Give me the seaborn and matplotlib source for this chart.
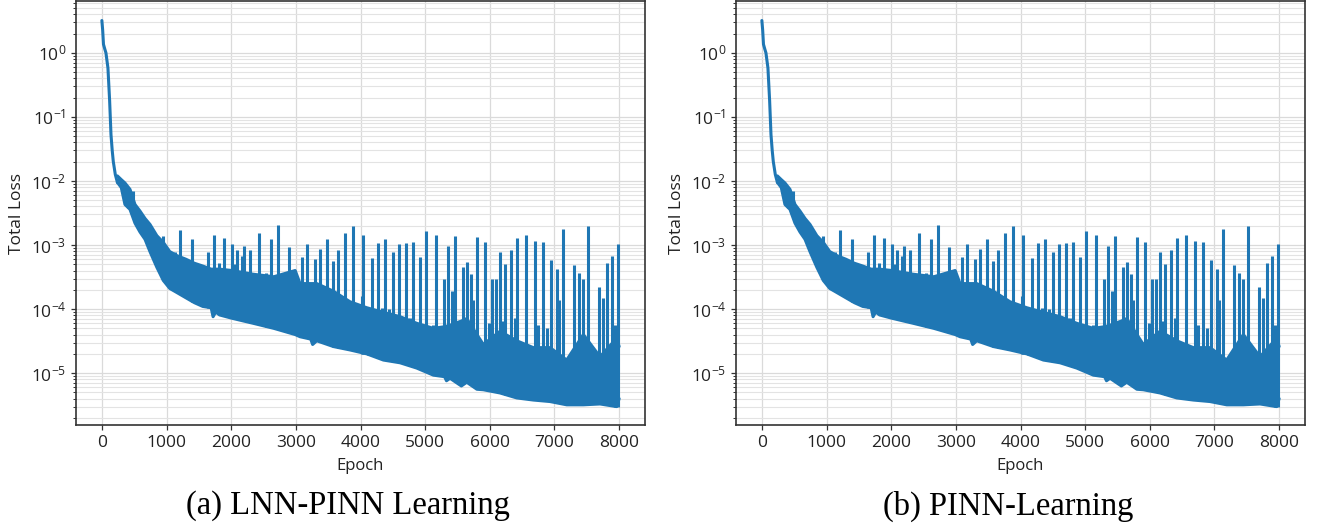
import matplotlib
matplotlib.use("Agg")
import matplotlib.pyplot as plt
import matplotlib.ticker as mticker
import seaborn as sns

# ---------------- data ----------------
# initial steep decay of the loss
decay_epoch = [0, 12, 25, 45, 63, 94, 120, 141, 160, 177, 208, 240]
decay_loss = [3.2, 2.3, 1.36, 1.15, 1.0, 0.58, 0.18, 0.053, 0.03, 0.020, 0.0126, 0.0095]

# dense oscillation band: lower and upper edge
band_epoch = [240, 300, 357, 435, 512, 589, 667, 744, 850, 950, 1050, 1165, 1300,
              1430, 1560, 1690, 1720, 1760, 1820, 2010, 2340, 2660, 2990, 3065, 3230,
              3260, 3323, 3581, 3838, 4096, 4354, 4612, 4869, 5127, 5300, 5330, 5385,
              5560, 5643, 5800, 5900, 6158, 6416, 6673, 6931, 7189, 7447, 7704, 7962,
              8000]
band_low = [9.5e-3, 7.9e-3, 4.3e-3, 3.6e-3, 2.2e-3, 1.6e-3, 1.23e-3, 7.9e-4, 4.5e-4,
            2.8e-4, 2.1e-4, 1.8e-4, 1.5e-4, 1.26e-4, 1.1e-4, 1.05e-4, 7.6e-5, 9.0e-5,
            8.1e-5, 7.2e-5, 6.0e-5, 5.0e-5, 4.0e-5, 3.7e-5, 3.4e-5, 2.8e-5, 3.2e-5,
            2.6e-5, 2.3e-5, 2.0e-5, 1.6e-5, 1.45e-5, 1.2e-5, 9.3e-6, 8.8e-6, 7.6e-6,
            8.3e-6, 6.3e-6, 7.2e-6, 5.6e-6, 5.5e-6, 4.9e-6, 4.1e-6, 3.8e-6, 3.6e-6,
            3.2e-6, 3.2e-6, 3.3e-6, 3.0e-6, 4.0e-6]
band_high = [1.2e-2, 1.05e-2, 9.3e-3, 7.4e-3, 4.3e-3, 3.4e-3, 2.6e-3, 2.1e-3, 1.4e-3,
             1.1e-3, 7.9e-4, 6.8e-4, 6.0e-4, 5.2e-4, 4.7e-4, 4.2e-4, 4.2e-4, 4.2e-4,
             4.2e-4, 4.0e-4, 3.5e-4, 3.2e-4, 4.0e-4, 2.5e-4, 2.5e-4, 2.5e-4, 2.5e-4,
             1.9e-4, 1.3e-4, 1.05e-4, 8.9e-5, 7.6e-5, 6.0e-5, 5.0e-5, 5.3e-5, 5.4e-5,
             5.6e-5, 6.5e-5, 7.1e-5, 4.0e-5, 2.8e-5, 4.5e-5, 3.2e-5, 2.5e-5, 2.5e-5,
             1.6e-5, 4.0e-5, 1.8e-5, 3.5e-5, 2.6e-5]

# loss spikes: epoch, peak value and the bottom of the dip at that spike
spike_epoch = [409, 476, 832, 883, 940, 1133, 1208, 1295, 1393, 1490, 1640, 1734,
               1816, 1888, 2007, 2063, 2094, 2174, 2198, 2290, 2435, 2532, 2610,
               2729, 2898, 3089, 3177, 3296, 3373, 3476, 3528, 3579, 3646, 3760,
               3827, 3888, 4018, 4043, 4121, 4172, 4265, 4327, 4378, 4445, 4497,
               4595, 4610, 4703, 4765, 4816, 4920, 5012, 5116, 5167, 5291, 5347,
               5410, 5461, 5580, 5641, 5703, 5744, 5796, 5925, 5992, 6038, 6095,
               6157, 6208, 6234, 6322, 6389, 6425, 6559, 6698, 6750, 6827, 6879,
               6941, 7033, 7075, 7136, 7301, 7384, 7446, 7522, 7693, 7755, 7807,
               7894, 7936, 7987]
spike_peak = [7.4e-3, 6.9e-3, 1.14e-3, 1.26e-3, 1.37e-3, 7.9e-4, 1.74e-3, 5.0e-4,
              1.26e-3, 5.0e-4, 7.9e-4, 1.45e-3, 5.2e-4, 1.29e-3, 1.02e-3, 5.0e-4,
              8.5e-4, 6.8e-4, 9.5e-4, 8.5e-4, 1.55e-3, 3.7e-4, 1.24e-3, 2.08e-3,
              9.2e-4, 6.4e-4, 1.02e-3, 6.0e-4, 8.7e-4, 1.24e-3, 1.1e-4, 5.6e-4,
              8.5e-4, 1.55e-3, 8.7e-5, 1.96e-3, 1.58e-4, 1.45e-3, 9.2e-5, 6.3e-4,
              1.07e-3, 1.04e-4, 1.26e-3, 1.0e-4, 7.9e-4, 1.02e-3, 7.7e-5, 1.09e-3,
              7.3e-5, 1.12e-3, 6.4e-4, 1.63e-3, 5.7e-5, 1.45e-3, 3.0e-4, 9.5e-4,
              1.9e-4, 1.37e-3, 4.6e-4, 5.4e-4, 3.5e-4, 1.4e-4, 1.32e-3, 1.10e-3,
              6.0e-5, 2.9e-4, 3.0e-4, 7.9e-4, 6.4e-5, 5.0e-4, 8.3e-4, 7.3e-5,
              1.29e-3, 1.42e-3, 1.14e-3, 5.7e-5, 1.13e-3, 5.0e-5, 5.9e-4, 4.2e-4,
              1.4e-4, 1.78e-3, 4.9e-4, 3.7e-4, 3.0e-4, 1.96e-3, 2.25e-4, 1.5e-4,
              5.3e-4, 6.7e-4, 5.7e-5, 1.02e-3]
spike_base = [3.8e-3, 3.0e-3, 5.0e-4, 4.0e-4, 3.0e-4, 2.0e-4, 1.7e-4, 1.5e-4,
              1.3e-4, 1.2e-4, 1.05e-4, 1.0e-4, 8.5e-5, 8.0e-5, 7.2e-5, 7.0e-5,
              7.0e-5, 6.6e-5, 6.5e-5, 6.1e-5, 5.7e-5, 5.3e-5, 5.1e-5, 4.8e-5,
              4.2e-5, 3.7e-5, 3.5e-5, 3.2e-5, 3.1e-5, 2.8e-5, 2.7e-5, 2.6e-5,
              2.5e-5, 2.4e-5, 2.3e-5, 2.2e-5, 2.0e-5, 2.0e-5, 1.9e-5, 1.9e-5,
              1.7e-5, 1.65e-5, 1.6e-5, 1.55e-5, 1.5e-5, 1.45e-5, 1.45e-5, 1.35e-5,
              1.3e-5, 1.25e-5, 1.15e-5, 1.05e-5, 9.5e-6, 9.2e-6, 8.7e-6, 8.4e-6,
              8.2e-6, 8.0e-6, 7.6e-6, 7.4e-6, 7.0e-6, 6.6e-6, 6.2e-6, 5.4e-6,
              5.3e-6, 5.2e-6, 5.0e-6, 4.9e-6, 4.8e-6, 4.6e-6, 4.4e-6, 4.2e-6,
              4.1e-6, 3.9e-6, 3.8e-6, 3.8e-6, 3.7e-6, 3.7e-6, 3.6e-6, 3.4e-6,
              3.4e-6, 3.3e-6, 3.2e-6, 3.2e-6, 3.2e-6, 3.2e-6, 3.3e-6, 3.3e-6,
              3.2e-6, 3.1e-6, 3.0e-6, 3.0e-6]

x_ticks = [0, 1000, 2000, 3000, 4000, 5000, 6000, 7000, 8000]
panel_captions = ["(a) LNN-PINN Learning", "(b) PINN-Learning"]
x_label = "Epoch"
y_label = "Total Loss"

# ---------------- style ----------------
sns.set_style("ticks")
plt.rcParams["font.family"] = ["Open Sans", "DejaVu Sans"]
plt.rcParams["mathtext.fontset"] = "custom"
plt.rcParams["mathtext.rm"] = "Open Sans"
plt.rcParams["mathtext.it"] = "Open Sans:italic"
plt.rcParams["mathtext.bf"] = "Open Sans:bold"

W, H = 1317, 526
BLUE = "#1f77b4"
LW = 2.2

fig = plt.figure(figsize=(W / 100, H / 100), dpi=100)
fig.patch.set_facecolor("white")

panel_left_px = [76, 736]
caption_cx_px = [348, 1008]

for left_px, caption, cx in zip(panel_left_px, panel_captions, caption_cx_px):
    ax = fig.add_axes([left_px / W, 101 / H, 569 / W, 424 / H])
    ax.set_yscale("log")
    ax.set_axisbelow(True)

    ax.fill_between(band_epoch, band_low, band_high, color=BLUE, lw=0)
    sns.lineplot(x=band_epoch, y=band_low, ax=ax, color=BLUE, lw=LW,
                 estimator=None, sort=False)
    sns.lineplot(x=band_epoch, y=band_high, ax=ax, color=BLUE, lw=LW,
                 estimator=None, sort=False)
    sns.lineplot(x=decay_epoch, y=decay_loss, ax=ax, color=BLUE, lw=LW,
                 estimator=None, sort=False)
    ax.vlines(spike_epoch, spike_base, spike_peak, color=BLUE, lw=LW)

    ax.set_xlim(-400, 8400)
    ax.set_ylim(10 ** -5.81, 10 ** 0.81)
    ax.xaxis.set_major_locator(mticker.FixedLocator(x_ticks))
    ax.yaxis.set_major_locator(mticker.LogLocator(base=10, numticks=20))
    ax.yaxis.set_minor_locator(mticker.LogLocator(base=10, subs=range(2, 10), numticks=20))
    ax.yaxis.set_minor_formatter(mticker.NullFormatter())

    ax.grid(True, which="major", axis="both", color="#dadada", lw=0.9)
    ax.grid(True, which="minor", axis="y", color="#e3e3e3", lw=0.8)

    ax.tick_params(axis="both", which="major", length=3.5, width=0.9,
                   colors="#333333", labelsize=12.5, labelcolor="#222222")
    ax.tick_params(axis="y", which="minor", length=2, width=0.7, colors="#333333")
    for sp in ax.spines.values():
        sp.set_visible(True)
        sp.set_color("#333333")
        sp.set_linewidth(1.2)

    ax.set_xlabel(x_label, fontsize=12, color="#222222", labelpad=5)
    ax.set_ylabel(y_label, fontsize=12.5, color="#222222", labelpad=4)

    fig.text(cx / W, 1 - 506 / H, caption, ha="center", va="center",
             family=["Liberation Serif", "DejaVu Serif"], fontsize=23.5, color="black")

fig.savefig("out.png", dpi=100, facecolor="white")
